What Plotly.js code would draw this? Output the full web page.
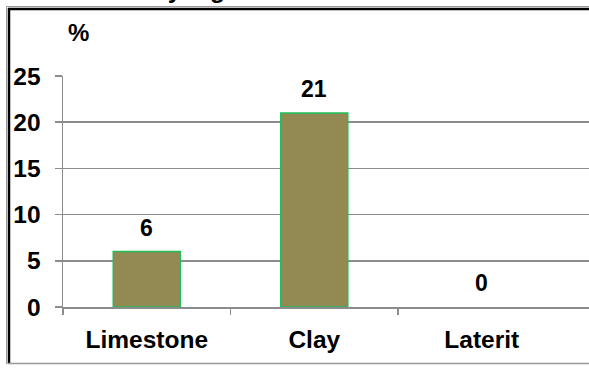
<!DOCTYPE html>
<html>
<head>
<meta charset="utf-8">
<script src="https://cdn.plot.ly/plotly-3.0.1.min.js"></script>
<style>html,body{margin:0;padding:0;background:#fff;overflow:hidden;}</style>
</head>
<body>
<div id="chart" style="width:589px;height:369px;"></div>
<script>
const categories = ["Limestone", "Clay", "Laterit"];
const values = [6, 21, 0];
const yTicks = [0, 5, 10, 15, 20, 25];
const categoryBoundaries = [-0.5, 0.5, 1.5];
const titleText = "Batuan yang larut";
const unitLabel = "%";

const W = 589, H = 369, L = 63, R = 0, T = 76, B = 62;
const pw = W - L - R, ph = H - T - B;
const px = x => (x - L) / pw;
const py = y => (H - B - y) / ph;

const FONT = "Arial, 'Liberation Sans', sans-serif";
const grid = "#8c8c8c";
const XRANGE = [-0.5, 2.64];

const trace = {
  type: "bar",
  x: categories,
  y: values,
  width: 0.4,
  marker: {color: "#938953", line: {color: "#1fbf5a", width: values.map(v => v > 0 ? 1.5 : 0)}},
  hoverinfo: "none"
};
const tickTrace = {type: "scatter", mode: "markers", x: [], y: [], xaxis: "x2", yaxis: "y", hoverinfo: "none"};

const annotations = categories.map((c, i) => ({
  x: c, y: values[i], xref: "x", yref: "y", xanchor: "center", yanchor: "middle",
  text: String(values[i]), showarrow: false, yshift: 24,
  font: {family: FONT, size: 23, color: "#000", weight: "bold"}
}));
annotations.push({
  xref: "paper", yref: "paper", x: px(78), y: py(33), xanchor: "center", yanchor: "middle",
  text: unitLabel, showarrow: false,
  font: {family: FONT, size: 24, color: "#000", weight: "bold"}
});
annotations.push({
  xref: "paper", yref: "paper", x: px(76), y: py(-10), xanchor: "left", yanchor: "middle",
  text: titleText, showarrow: false,
  font: {family: FONT, size: 24.5, color: "#000", weight: "bold"}
});

const shapes = [
  {type: "line", xref: "paper", yref: "paper", x0: px(6.5), x1: px(6.5), y0: py(6.5), y1: py(364), line: {color: "#999", width: 1}},
  {type: "line", xref: "paper", yref: "paper", x0: px(6.5), x1: px(W), y0: py(6.5), y1: py(6.5), line: {color: "#999", width: 1}},
  {type: "line", xref: "paper", yref: "paper", x0: px(9), x1: px(9), y0: py(8), y1: py(364), line: {color: "#000", width: 2.5}},
  {type: "line", xref: "paper", yref: "paper", x0: px(8), x1: px(W), y0: py(9), y1: py(9), line: {color: "#000", width: 2.5}},
  {type: "line", xref: "paper", yref: "paper", x0: px(8), x1: px(W), y0: py(363.5), y1: py(363.5), line: {color: "#999", width: 1.5}}
];

const layout = {
  width: W, height: H,
  margin: {l: L, r: R, t: T, b: B, pad: 0},
  paper_bgcolor: "#fff", plot_bgcolor: "#fff",
  showlegend: false,
  xaxis: {
    type: "category", range: XRANGE,
    showgrid: false, showline: true, linecolor: grid, linewidth: 1.5,
    ticks: "",
    tickfont: {family: FONT, size: 24.5, color: "#000", weight: "bold"},
    ticklabelstandoff: 10, zeroline: false, fixedrange: true
  },
  xaxis2: {
    overlaying: "x", anchor: "y", side: "bottom", range: XRANGE,
    tickvals: categoryBoundaries, showticklabels: false,
    showgrid: false, showline: false, zeroline: false,
    ticks: "outside", ticklen: 7, tickcolor: grid, tickwidth: 1.5, fixedrange: true
  },
  yaxis: {
    range: [0, 25], tickvals: yTicks, ticktext: yTicks.map(String),
    showgrid: true, gridcolor: grid, gridwidth: 1.5,
    showline: true, linecolor: grid, linewidth: 1.5,
    ticks: "outside", ticklen: 7, tickcolor: grid, tickwidth: 1.5,
    tickfont: {family: FONT, size: 24.5, color: "#000", weight: "bold"},
    ticklabelstandoff: 9, zeroline: false, fixedrange: true
  },
  annotations: annotations,
  shapes: shapes
};

Plotly.newPlot("chart", [trace, tickTrace], layout, {staticPlot: true, displayModeBar: false});
</script>
</body>
</html>
